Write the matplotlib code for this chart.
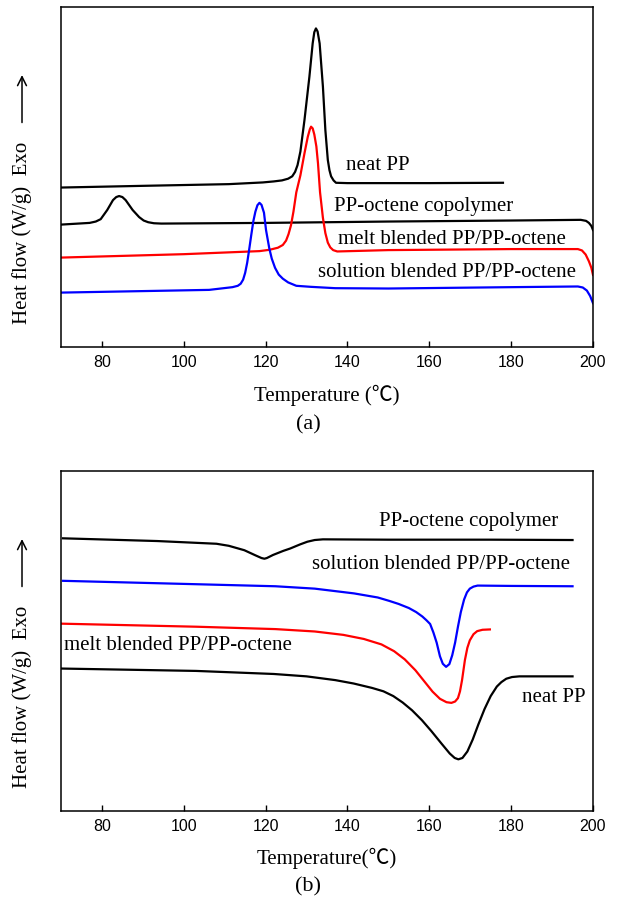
import matplotlib
matplotlib.use('Agg')
import matplotlib.pyplot as plt

# (a) crystallisation exotherms, heat flow in arbitrary units (offset curves)
neat_T_a = [70, 90, 111, 119.3, 122, 124, 125.5, 126.5, 127.2, 127.8, 128.5, 129.5,
            130.7, 131.5, 131.9, 132.3, 132.7, 133.2, 134.0, 134.6, 135.2, 135.6,
            136.0, 136.6, 137.2, 140, 160, 178]
neat_y_a = [46.9, 47.4, 47.9, 48.4, 48.7, 49.0, 49.5, 50.2, 51.5, 53.5, 57.5, 66.8,
            79.5, 89.3, 92.6, 93.7, 92.8, 89.3, 76.6, 63.8, 55.0, 52.0,
            50.2, 49.0, 48.3, 48.2, 48.2, 48.3]

co_T_a = [70, 77.0, 78.5, 79.7, 81.3, 82.7, 83.5, 84.2, 85.0, 85.8, 87.5, 89.1, 90.2,
          91.3, 92.7, 94.5, 120, 150, 180, 197, 198.3, 199.0, 199.6, 200]
co_y_a = [36.0, 36.5, 36.9, 37.6, 40.3, 43.2, 44.1, 44.4, 44.1, 43.2, 40.3, 38.2, 37.2,
          36.7, 36.4, 36.3, 36.5, 36.9, 37.2, 37.4, 37.1, 36.5, 35.6, 34.4]

melt_T_a = [70, 100, 118.5, 121, 123.0, 124.2, 125.0, 125.6, 126.2, 126.8, 127.5,
            128.5, 129.5, 130.3, 130.8, 131.1, 131.5, 131.9, 132.4, 132.8, 133.3,
            134.0, 134.6, 135.2, 135.8, 136.5, 137.5, 150, 180, 196.3, 197.3,
            198.2, 199.0, 199.6, 200]
melt_y_a = [26.3, 27.3, 28.2, 28.6, 29.2, 30.0, 31.3, 33.2, 35.8, 39.8, 45.5,
            50.5, 57.0, 61.8, 64.0, 64.8, 64.3, 62.5, 59.0, 54.0, 45.5,
            38.0, 33.5, 30.7, 29.3, 28.5, 28.1, 28.5, 28.8, 28.8, 28.4,
            27.2, 25.2, 23.3, 21.2]

sol_T_a = [70, 106.2, 111.9, 113.2, 113.9, 114.5, 115.0, 115.5, 116.0, 116.5, 117.0,
           117.5, 118.0, 118.5, 119.0, 119.6, 120.1, 120.9, 121.5, 122.3, 123.2,
           124.2, 125.5, 127.5, 131, 137, 150, 180, 196.3, 197.5, 198.5, 199.3, 200]
sol_y_a = [16.0, 16.8, 17.6, 18.0, 18.6, 19.8, 21.8, 24.8, 28.8, 33.0, 37.0,
           39.8, 41.7, 42.4, 41.8, 39.5, 34.4, 29.0, 26.0, 23.3, 21.3,
           20.1, 19.0, 18.0, 17.7, 17.3, 17.2, 17.6, 17.8, 17.5, 16.6, 15.0, 12.9]

# (b) melting endotherms
co_T_b = [70.5, 93.5, 108, 111, 114.8, 117.5, 119.0, 119.7, 120.3, 121.8, 124.3, 126,
          128.4, 130.2, 132.0, 134, 150, 175, 195]
co_y_b = [80.2, 79.4, 78.6, 78.0, 76.7, 75.2, 74.4, 74.2, 74.4, 75.3, 76.5, 77.2,
          78.4, 79.2, 79.7, 79.9, 79.8, 79.8, 79.7]

sol_T_b = [70.5, 103.1, 122.4, 132, 141.6, 147.4, 150.2, 152.5, 155, 156.8, 158.3,
           159.3, 160.2, 161.0, 161.8, 162.6, 163.3, 164.1, 164.9, 165.6, 166.3,
           167.0, 167.7, 168.5, 169.2, 169.9, 170.8, 171.8, 180, 195]
sol_y_b = [67.7, 66.7, 66.1, 65.4, 64.0, 62.8, 61.8, 60.9, 59.7, 58.5, 57.2,
           56.1, 55.0, 52.5, 49.5, 45.5, 43.3, 42.4, 43.2, 45.8, 49.5,
           54.2, 58.5, 62.2, 64.3, 65.4, 66.0, 66.3, 66.2, 66.1]

melt_T_b = [70, 103.1, 122.4, 132, 139, 144, 148.3, 151.4, 154, 156.6, 158.8, 160.8,
            162.6, 164.2, 165.4, 166.3, 167.0, 167.5, 168.0, 168.7, 169.3, 169.9,
            170.8, 171.7, 173, 174.8]
melt_y_b = [55.1, 54.2, 53.5, 52.8, 51.8, 50.6, 49.0, 47.0, 44.6, 41.4, 38.1, 35.1,
            33.0, 32.0, 31.8, 32.2, 33.2, 35.2, 38.5, 44.4, 48.0, 50.2,
            52.0, 52.9, 53.3, 53.4]

neat_T_b = [70, 103, 122, 130, 137, 141.5, 146, 148.8, 151.2, 153.5, 155.8, 158.2,
            160.5, 163, 165, 166.2, 167.1, 168.1, 169.3, 170.6, 172, 173.5, 175,
            176.5, 177.6, 178.8, 180.2, 182, 195]
neat_y_b = [41.9, 41.2, 40.3, 39.6, 38.5, 37.5, 36.2, 35.2, 33.8, 31.9, 29.6, 26.7,
            23.5, 19.8, 16.9, 15.6, 15.2, 15.6, 17.5, 21.0, 25.5, 30.0, 33.8,
            36.6, 37.9, 38.9, 39.4, 39.6, 39.6]

xticks = [80, 100, 120, 140, 160, 180, 200]

serif = ['Liberation Serif', 'Noto Sans CJK SC', 'DejaVu Serif']
fs = 15

fig = plt.figure(figsize=(6.17, 9.0), dpi=100)
ax1 = fig.add_axes([61/617, 1-347/900, 532/617, 340/900])
ax2 = fig.add_axes([61/617, 1-811/900, 532/617, 340/900])

ax1.plot(neat_T_a, neat_y_a, color='black', lw=1.6)
ax1.plot(co_T_a, co_y_a, color='black', lw=1.6)
ax1.plot(melt_T_a, melt_y_a, color='red', lw=1.6)
ax1.plot(sol_T_a, sol_y_a, color='blue', lw=1.6)

ax1.text(139.6, 53.5, 'neat PP', family=serif, fontsize=fs, va='center')
ax1.text(136.8, 41.3, 'PP-octene copolymer', family=serif, fontsize=fs, va='center')
ax1.text(137.7, 31.7, 'melt blended PP/PP-octene', family=serif, fontsize=fs, va='center')
ax1.text(132.9, 21.9, 'solution blended PP/PP-octene', family=serif, fontsize=fs, va='center')

ax2.plot(co_T_b, co_y_b, color='black', lw=1.6)
ax2.plot(sol_T_b, sol_y_b, color='blue', lw=1.6)
ax2.plot(melt_T_b, melt_y_b, color='red', lw=1.6)
ax2.plot(neat_T_b, neat_y_b, color='black', lw=1.6)

ax2.text(147.8, 85.2, 'PP-octene copolymer', family=serif, fontsize=fs, va='center')
ax2.text(131.3, 72.6, 'solution blended PP/PP-octene', family=serif, fontsize=fs, va='center')
ax2.text(70.7, 48.8, 'melt blended PP/PP-octene', family=serif, fontsize=fs, va='center')
ax2.text(182.7, 33.3, 'neat PP', family=serif, fontsize=fs, va='center')

for ax in (ax1, ax2):
    ax.set_xlim(70, 200)
    ax.set_ylim(0, 100)
    ax.set_xticks(xticks)
    ax.set_yticks([])
    ax.tick_params(axis='x', direction='in', length=4.5, width=1, pad=6,
                   labelsize=11.5)
    for lab in ax.get_xticklabels():
        lab.set_family('Liberation Sans')
    for sp in ax.spines.values():
        sp.set_linewidth(1.1)
    ax.text(-0.0733, 0.337, 'Heat flow (W/g)  Exo', family=serif, fontsize=fs,
            rotation=90, ha='center', va='center', transform=ax.transAxes)
    ax.annotate('', xy=(-0.0733, 0.808), xytext=(-0.0733, 0.652),
                xycoords='axes fraction', textcoords='axes fraction',
                arrowprops=dict(arrowstyle='->', lw=1.1, mutation_scale=16,
                                color='black'),
                annotation_clip=False)

fig.text(327/617, 1-395.7/900, 'Temperature (\u2103)', family=serif, fontsize=fs,
         ha='center', va='center')
fig.text(308/617, 1-425/900, '(a)', family=serif, fontsize=fs + 1,
         ha='center', va='center')
fig.text(327/617, 1-858/900, 'Temperature(\u2103)', family=serif, fontsize=fs,
         ha='center', va='center')
fig.text(308/617, 1-887/900, '(b)', family=serif, fontsize=fs + 1,
         ha='center', va='center')

fig.savefig('out.png', dpi=100)
